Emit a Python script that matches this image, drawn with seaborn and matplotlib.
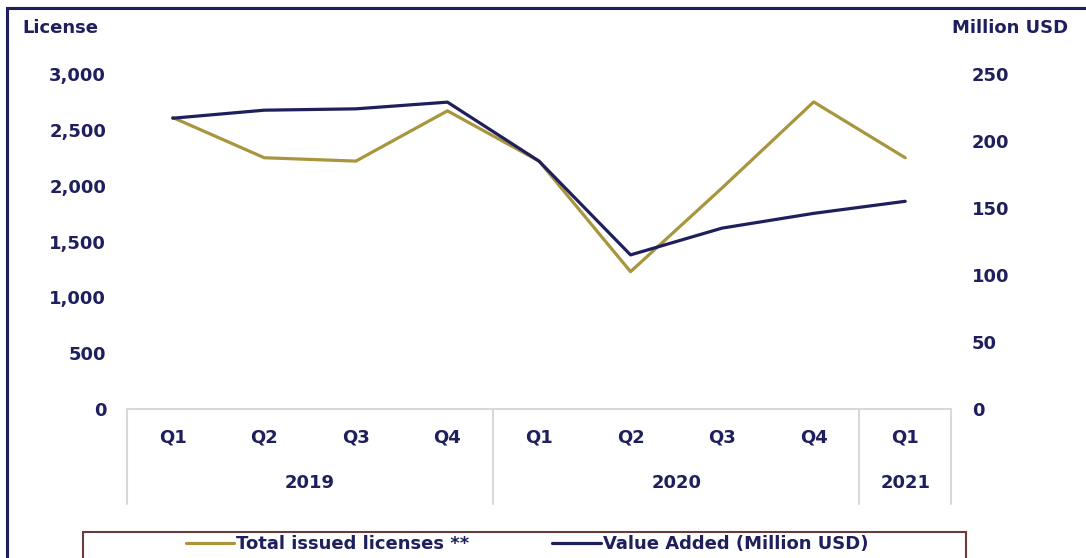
import numpy as np
import pandas as pd
import matplotlib
matplotlib.use("Agg")
import matplotlib.pyplot as plt
import matplotlib.transforms as mtransforms
from matplotlib.patches import Rectangle
from matplotlib.lines import Line2D
import seaborn as sns

quarters = ["Q1", "Q2", "Q3", "Q4", "Q1", "Q2", "Q3", "Q4", "Q1"]
years = ["2019", "2019", "2019", "2019", "2020", "2020", "2020", "2020", "2021"]
licenses = [2610, 2250, 2220, 2670, 2220, 1230, 1980, 2750, 2250]
value_added = [217, 223, 224, 229, 185, 115, 135, 146, 155]
left_ticks = [0, 500, 1000, 1500, 2000, 2500, 3000]
right_ticks = [0, 50, 100, 150, 200, 250]
series_names = ["Total issued licenses **", "Value Added (Million USD)"]

NAVY = "#1f1f5e"
GOLD = "#a8963e"
GRAY = "#d9d9d9"
FS = 13

sns.set_theme(style="white")
plt.rcParams["font.family"] = ["DejaVu Sans"]
plt.rcParams["font.weight"] = "bold"

df = pd.DataFrame({"pos": np.arange(len(quarters)), "quarter": quarters,
                   "year": years, "licenses": licenses, "value": value_added})

fig = plt.figure(figsize=(10.86, 5.58), dpi=100)
ax = fig.add_axes([127 / 1086, 1 - 409 / 558, (951 - 127) / 1086, (409 - 74) / 558])
ax2 = ax.twinx()

sns.lineplot(data=df, x="pos", y="licenses", ax=ax, color=GOLD, linewidth=2.3)
sns.lineplot(data=df, x="pos", y="value", ax=ax2, color=NAVY, linewidth=2.3)

ax.set_xlim(-0.5, len(quarters) - 0.5)
ax.set_ylim(0, 3000)
ax2.set_ylim(0, 250)
ax.set_yticks(left_ticks)
ax.set_yticklabels([f"{v:,}" for v in left_ticks])
ax2.set_yticks(right_ticks)
ax2.set_yticklabels([str(v) for v in right_ticks])
ax.set_xticks(df["pos"])
ax.set_xticklabels(quarters)
ax.set_xlabel("")
ax.set_ylabel("")
ax2.set_ylabel("")

for a in (ax, ax2):
    for s in ("top", "left", "right", "bottom"):
        a.spines[s].set_visible(False)
    a.tick_params(length=0, labelsize=FS, labelcolor=NAVY)
ax.tick_params(axis="y", pad=15)
ax2.tick_params(axis="y", pad=15)
ax.tick_params(axis="x", pad=14)
for lab in ax.get_xticklabels() + ax.get_yticklabels() + ax2.get_yticklabels():
    lab.set_fontweight("bold")

# category grid box below axis
trans = mtransforms.blended_transform_factory(ax.transData, ax.transAxes)
ybot = -(504 - 409) / (409 - 74)
ax.plot([-0.5, len(quarters) - 0.5], [0, 0], transform=trans, color=GRAY, lw=1.5, clip_on=False)
uniq = list(dict.fromkeys(years))
bounds = [-0.5]
for yv in uniq:
    idx = [i for i, y in enumerate(years) if y == yv]
    bounds.append(idx[-1] + 0.5)
    ax.text((idx[0] + idx[-1]) / 2, -(483 - 409) / (409 - 74), yv, transform=trans,
            ha="center", va="center", fontsize=FS, fontweight="bold", color=NAVY)
for b in bounds:
    ax.plot([b, b], [0, ybot], transform=trans, color=GRAY, lw=1.5, clip_on=False)

fig.text(22 / 1086, 1 - 28 / 558, "License", ha="left", va="center",
         fontsize=FS, fontweight="bold", color=NAVY)
fig.text(1068 / 1086, 1 - 28 / 558, "Million USD", ha="right", va="center",
         fontsize=FS, fontweight="bold", color=NAVY)

# legend
handles = [Line2D([], [], color=GOLD, lw=2.3), Line2D([], [], color=NAVY, lw=2.3)]
leg = fig.legend(handles, series_names, loc="center", bbox_to_anchor=(527 / 1086, 1 - 544 / 558),
                 ncol=2, frameon=False, fontsize=FS, handlelength=2.7, handletextpad=0.1,
                 columnspacing=4.6)
for t in leg.get_texts():
    t.set_color(NAVY)
    t.set_fontweight("bold")
fig.patches.append(Rectangle((83 / 1086, -0.01), (966 - 83) / 1086, (558 - 532) / 558 + 0.01,
                             transform=fig.transFigure, fill=False, edgecolor="#6b3a3a", lw=1.5))
# outer border
fig.patches.append(Rectangle((7 / 1086, -0.05), 1.2, 1 - 8 / 558 + 0.05,
                             transform=fig.transFigure, fill=False, edgecolor=NAVY, lw=2.2))

fig.savefig("out.png", dpi=100)
